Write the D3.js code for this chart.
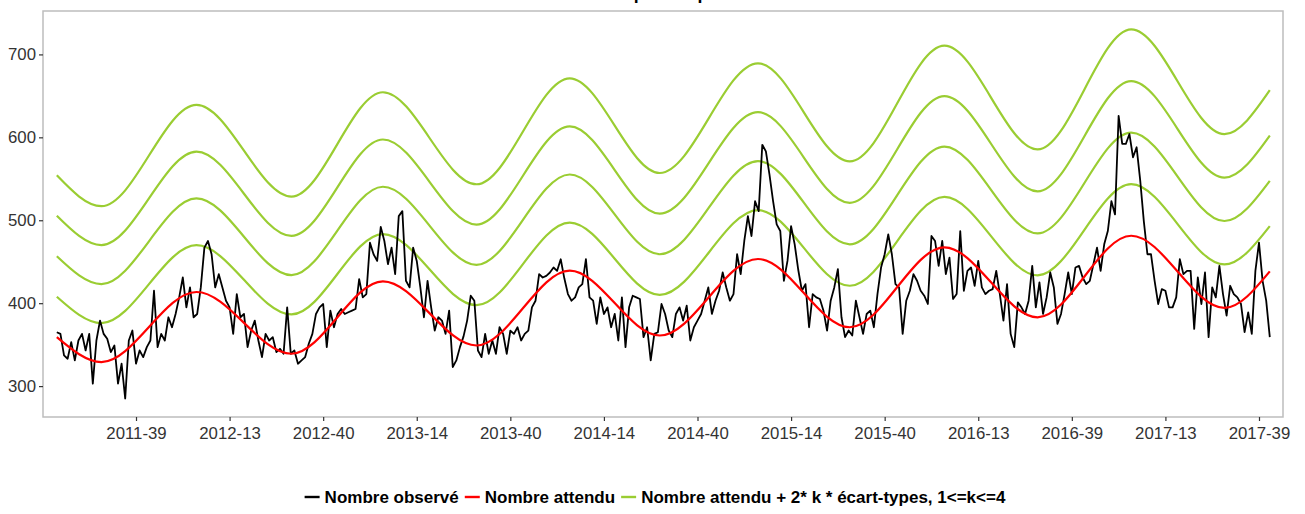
<!DOCTYPE html>
<html><head><meta charset="utf-8">
<script src="https://cdn.jsdelivr.net/npm/d3@7"></script>
<style>body{margin:0;background:#fff} svg{display:block}</style>
</head><body><svg id="chart" width="1305" height="514"></svg>
<script>
// ---------- DATA ----------
const tickWeeks  = [22, 48, 74, 100, 126, 152, 178, 204, 230, 256, 282, 308, 334];
const tickLabels = ["2011-39","2012-13","2012-40","2013-14","2013-40","2014-14","2014-40",
                    "2015-14","2015-40","2016-13","2016-39","2017-13","2017-39"];
const yTicks = [300, 400, 500, 600, 700];

// weekly observed counts (week index 0 = first week of the series)
const observed = [
365,363,337,333,353,331,355,363,343,363,
303,355,379,363,357,341,349,303,327,285,
355,367,327,343,335,347,355,415,347,363,
355,383,371,387,407,431,395,419,383,387,
419,467,475,459,419,435,419,403,395,363,
411,383,387,347,367,379,355,335,363,355,
359,341,345,339,395,339,343,327,331,335,
351,363,387,395,399,347,391,371,387,393,
387,389,391,393,429,407,411,473,459,451,
492,475,447,467,435,505,511,427,419,467,
451,419,383,427,395,367,383,379,363,391,
323,331,347,360,379,409,403,343,335,363,
339,355,339,371,363,339,367,363,371,355,
363,367,395,403,435,431,433,437,443,439,
453,430,411,403,407,419,423,453,407,403,
375,407,387,395,371,387,355,407,347,395,
409,407,405,359,371,331,363,365,399,387,
367,359,387,395,379,397,355,371,379,387,
403,419,387,403,415,437,419,403,411,459,
435,475,505,481,523,511,591,583,555,523,
495,487,427,451,493,471,440,415,423,371,
411,407,405,391,367,403,419,441,383,359,
367,361,403,383,363,387,391,371,411,443,
459,483,459,423,419,363,403,415,435,427,
415,409,399,481,475,445,475,435,455,405,
411,487,415,439,443,421,451,419,411,415,
417,439,411,379,423,363,347,401,395,387,
403,445,395,425,387,407,437,419,375,387,
411,437,411,443,445,431,423,427,447,467,
439,471,487,523,507,626,592,592,604,576,
588,548,499,459,459,427,399,417,415,395,
395,407,453,435,439,439,369,431,399,437,
359,419,407,445,411,385,421,411,407,399,
365,389,363,439,473,427,403,359
];

// expected count and standard deviation, read at the start, every trough/peak, and the end
const expWeek  = [0, 12.4, 38.8, 65.2, 90.6, 116.6, 142.5, 167.5, 194.8, 220.3, 246.6, 272.5, 298.5, 324.4, 337];
const expValue = [359, 329, 413.5, 339, 426.4, 349, 439.2, 361, 453.3, 371, 467.3, 383, 481.3, 394.3, 438.4];
const sdValue  = [24.4, 23.5, 28.2, 23.7, 28.5, 24.3, 29.0, 24.5, 29.5, 25.0, 30.4, 25.3, 31.1, 26.2, 27.3];
const kValues  = [1, 2, 3, 4];

const legendLabels = ["Nombre observé", "Nombre attendu", "Nombre attendu + 2* k * écart-types, 1<=k<=4"];
const titleText = "Suivi pour la période";

// ---------- LAYOUT ----------
const colObs = "#000000", colExp = "#ff0000", colSd = "#9acd32";
const P = {left: 43, right: 1283, top: 11, bottom: 417};
const FONT = "'Liberation Sans', Arial, Helvetica, sans-serif";

const svg = d3.select("#chart");

const obsData = observed.map((v, i) => ({w: i, v}));
const expData = expWeek.map((w, j) => ({w, v: expValue[j]}));
const sdLines = kValues.map(k => expWeek.map((w, j) => ({w, v: expValue[j] + 2 * k * sdValue[j]})));

const allVals = observed.concat(...sdLines.map(l => l.map(d => d.v)), expValue);
const [vmin, vmax] = d3.extent(allVals);
const pad = (vmax - vmin) * 0.05;

const x = d3.scaleLinear().domain([-3.84, observed.length - 1 + 3.67]).range([P.left, P.right]);
const y = d3.scaleLinear().domain([vmin - pad, vmax + pad]).range([P.bottom, P.top]);

// title (almost entirely above the canvas, as in the reference)
svg.append("text").attr("x", 674).attr("y", -0.6).attr("text-anchor", "middle")
  .attr("font-family", FONT).attr("font-weight", "bold").attr("font-size", 17.7)
  .text(titleText);

svg.append("defs").append("clipPath").attr("id", "clip")
  .append("rect").attr("x", P.left).attr("y", P.top)
  .attr("width", P.right - P.left).attr("height", P.bottom - P.top);

const plot = svg.append("g").attr("clip-path", "url(#clip)");

const lineSmooth = d3.line().x(d => x(d.w)).y(d => y(d.v)).curve(d3.curveMonotoneX);
const lineObs = d3.line().x(d => x(d.w)).y(d => y(d.v));

plot.selectAll("path.sd").data(sdLines).join("path").attr("class", "sd")
  .attr("d", lineSmooth).attr("fill", "none").attr("stroke", colSd).attr("stroke-width", 2.2);
plot.append("path").datum(obsData).attr("d", lineObs)
  .attr("fill", "none").attr("stroke", colObs).attr("stroke-width", 1.8).attr("stroke-linejoin", "round");
plot.append("path").datum(expData).attr("d", lineSmooth)
  .attr("fill", "none").attr("stroke", colExp).attr("stroke-width", 2.2);

// frame
svg.append("rect").attr("x", P.left).attr("y", P.top)
  .attr("width", P.right - P.left).attr("height", P.bottom - P.top)
  .attr("fill", "none").attr("stroke", "#bdbdbd").attr("stroke-width", 1.5);

// axes
const yAxis = svg.append("g").attr("transform", `translate(${P.left},0)`)
  .call(d3.axisLeft(y).tickValues(yTicks).tickSize(4).tickPadding(3));
const xAxis = svg.append("g").attr("transform", `translate(0,${P.bottom})`)
  .call(d3.axisBottom(x).tickValues(tickWeeks).tickFormat((d, i) => tickLabels[i]).tickSize(4).tickPadding(6));
[yAxis, xAxis].forEach(g => {
  g.select(".domain").remove();
  g.selectAll(".tick line").attr("stroke", "#333").attr("stroke-width", 1.2);
  g.selectAll(".tick text").attr("fill", "#333").attr("font-family", FONT).attr("font-size", 16.8);
});

// legend
const legY = 497;
const leg = svg.append("g");
const legColors = [colObs, colExp, colSd];
let cx = 0;
legendLabels.forEach((lab, i) => {
  const g = leg.append("g").attr("transform", `translate(${cx},0)`);
  g.append("line").attr("x1", 0).attr("x2", 15).attr("y1", legY).attr("y2", legY)
    .attr("stroke", legColors[i]).attr("stroke-width", 2.4);
  const t = g.append("text").attr("x", 20).attr("y", legY).attr("dy", "0.36em")
    .attr("font-family", FONT).attr("font-weight", "bold").attr("font-size", 17).attr("fill", "#000").text(lab);
  cx += 20 + t.node().getComputedTextLength() + 6;
});
leg.attr("transform", `translate(${655 - (cx - 6) / 2},0)`);
</script></body></html>
